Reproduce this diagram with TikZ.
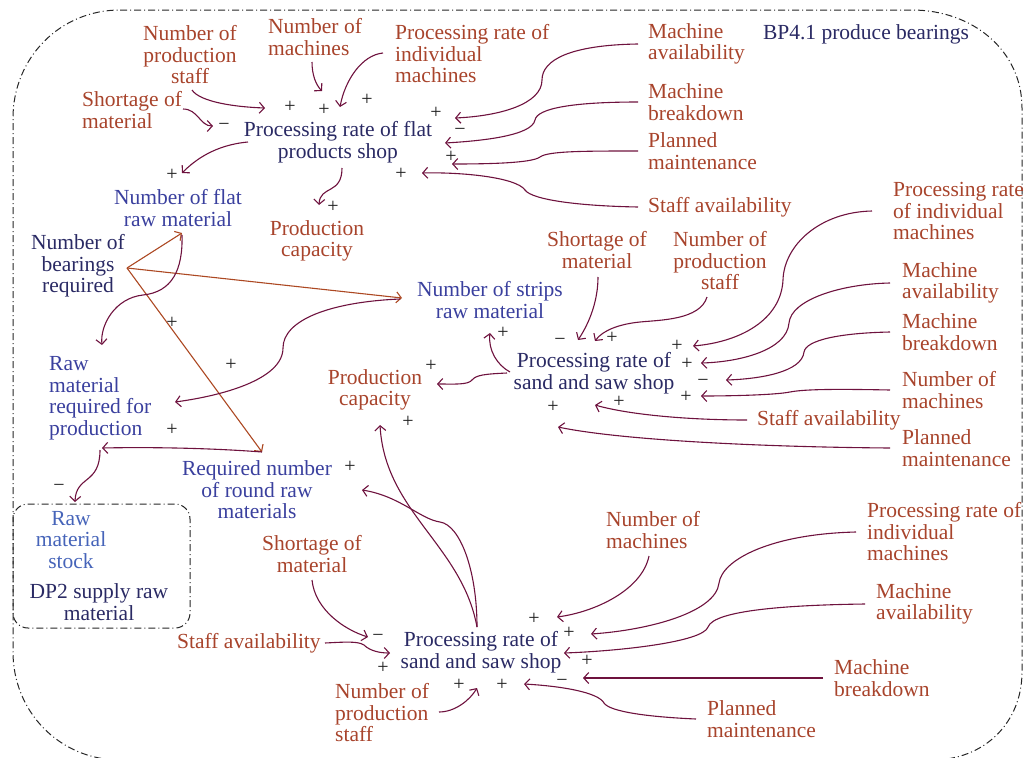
\documentclass[tikz,border=0pt]{standalone}
\usepackage{fontspec}
\setmainfont{Liberation Serif}
\usetikzlibrary{arrows.meta}
\definecolor{brownT}{RGB}{168,68,44}
\definecolor{navyT}{RGB}{42,42,100}
\definecolor{blueT}{RGB}{58,64,158}
\definecolor{lblueT}{RGB}{70,100,185}
\definecolor{arrC}{RGB}{110,18,62}
\definecolor{orC}{RGB}{172,72,34}
\definecolor{signC}{RGB}{30,30,30}
\begin{document}
\begin{tikzpicture}[x=1pt,y=-1pt,
  lbl/.style={inner sep=0pt, font=\fontsize{21.5}{21.5}\selectfont},
  br/.style={lbl,text=brownT},
  nv/.style={lbl,text=navyT},
  bl/.style={lbl,text=blueT},
  L/.style={align=left,anchor=west},
  C/.style={align=center},
  sg/.style={inner sep=0pt,text=signC,font=\fontsize{20}{20}\selectfont},
  arr/.style={draw=arrC,line width=1.1pt,-{Straight Barb[length=5pt,width=11pt,line width=1.1pt]}},
  oarr/.style={draw=orC,line width=1.1pt,-{Straight Barb[length=5pt,width=11pt,line width=1.1pt]}},
  frame/.style={draw=black!85,line width=1pt,dash pattern=on 7pt off 3pt on 1pt off 3pt}]
\useasboundingbox (0,0) rectangle (1026,758);
% frames
\draw[frame] (120,10) -- (912,10) .. controls (972,10) and (1022,50) .. (1022,108) -- (1022,672)
  .. controls (1022,722) and (985,760) .. (932,760) -- (120,760)
  .. controls (60,760) and (13,712) .. (13,652) -- (13,118) .. controls (13,58) and (60,10) .. (120,10) -- cycle;
\draw[frame,rounded corners=15pt] (13,504) rectangle (190,628);
% ---------- top section
\node[br,C] (nps1) at (190,55) {Number of\\production\\staff};
\node[br,L] (nm1) at (268,37) {Number of\\machines};
\node[br,L] (pri1) at (395,54) {Processing rate of\\individual\\machines};
\node[br,L] (sm1) at (82,110) {Shortage of\\material};
\node[br,L] (ma1) at (648,44) {Machine\\availability};
\node[br,L] (mb1) at (648,102) {Machine\\breakdown};
\node[br,L] (pm1) at (648,151) {Planned\\maintenance};
\node[br,L] (sa1) at (648,207) {Staff availability};
\node[nv] (bp) at (866,34) {BP4.1 produce bearings};
\node[nv,C] (flat) at (338,142) {Processing rate of flat\\products shop};
\node[bl,C] (nfr) at (178,208) {Number of flat\\raw material};
\node[br,C] (pc1) at (317,241) {Production\\capacity};
\node[nv,C] (nbr) at (78,266) {Number of\\bearings\\required};
\node[bl,L] (rmr) at (49,398) {Raw\\material\\required for\\production};
\node[bl,C] (rnr) at (257,490) {Required number\\of round raw\\materials};
\node[bl,C] (nsr) at (490,300) {Number of strips\\raw material};
\node[bl,C,text=lblueT] (rms) at (71,540) {Raw\\material\\stock};
\node[nv,C] (dp2) at (99,602) {DP2 supply raw\\material};
% ---------- middle section
\node[br,C] (sm2) at (597,250) {Shortage of\\material};
\node[br,C] (nps2) at (720,261) {Number of\\production\\staff};
\node[br,L] (pri2) at (893,211) {Processing rate\\of individual\\machines};
\node[br,L] (ma2) at (902,283) {Machine\\availability};
\node[br,L] (mb2) at (902,332) {Machine\\breakdown};
\node[br,L] (nm2) at (902,390) {Number of\\machines};
\node[br,L] (sa2) at (757,420) {Staff availability};
\node[br,L] (pm2) at (902,448) {Planned\\maintenance};
\node[nv,C] (sand1) at (594,373) {Processing rate of\\sand and saw shop};
\node[br,C] (pc2) at (375,390) {Production\\capacity};
% ---------- bottom section
\node[br,L] (nm3) at (606,530) {Number of\\machines};
\node[br,L] (pri3) at (867,532) {Processing rate of\\individual\\machines};
\node[br,L] (ma3) at (876,604) {Machine\\availability};
\node[br,L] (mb3) at (834,678) {Machine\\breakdown};
\node[br,L] (pm3) at (707,719) {Planned\\maintenance};
\node[br,C] (sm3) at (312,554) {Shortage of\\material};
\node[br,L] (sa3) at (177,643) {Staff availability};
\node[br,L] (nps3) at (335,713) {Number of\\production\\staff};
\node[nv,C] (sand2) at (481,652) {Processing rate of\\sand and saw shop};
% ---------- signs
\node[sg] (s1) at (290,107) {+};
\node[sg] (s2) at (324,110) {+};
\node[sg] (s3) at (367,100) {+};
\node[sg] (s4) at (436,113) {+};
\node[sg] (s5) at (224,127) {−};
\node[sg] (s6) at (460,132) {−};
\node[sg] (s7) at (451,157) {+};
\node[sg] (s8) at (401,174) {+};
\node[sg] (s9) at (172,175) {+};
\node[sg] (s10) at (333,207) {+};
\node[sg] (s11) at (172,323) {+};
\node[sg] (s12) at (231,365) {+};
\node[sg] (s13) at (172,430) {+};
\node[sg] (s14) at (59,488) {−};
\node[sg] (s15) at (350,467) {+};
\node[sg] (s16) at (503,333) {+};
\node[sg] (s17) at (560,342) {−};
\node[sg] (s18) at (612,338) {+};
\node[sg] (s19) at (677,346) {+};
\node[sg] (s20) at (687,364) {+};
\node[sg] (s21) at (703,383) {−};
\node[sg] (s22) at (686,397) {+};
\node[sg] (s23) at (553,407) {+};
\node[sg] (s24) at (619,402) {+};
\node[sg] (s25) at (431,366) {+};
\node[sg] (s26) at (408,422) {+};
\node[sg] (s27) at (378,638) {−};
\node[sg] (s28) at (383,668) {+};
\node[sg] (s29) at (459,685) {+};
\node[sg] (s30) at (502,685) {+};
\node[sg] (s31) at (534,619) {+};
\node[sg] (s32) at (569,633) {+};
\node[sg] (s33) at (587,661) {+};
\node[sg] (s34) at (562,683) {−};
% ---------- connectors top
\draw[arr] (192,90) .. controls (200,102) and (235,107) .. (265,108);
\draw[arr] (312,62) .. controls (312,75) and (316,85) .. (322,91);
\draw[arr] (383,53) .. controls (362,55) and (345,80) .. (340,107);
\draw[arr] (183,109) .. controls (198,109) and (200,126) .. (213,126);
\draw[arr] ([xshift=-10pt]ma1.west) .. controls (570,45) and (542,60) .. (542,80) .. controls (542,104) and (500,116) .. (455,118);
\draw[arr] ([xshift=-10pt]mb1.west) .. controls (575,102) and (537,108) .. (535,120) .. controls (532,136) and (480,141) .. (445,143);
\draw[arr] ([xshift=-10pt]pm1.west) .. controls (585,151) and (548,151) .. (540,157) .. controls (532,163) and (490,164) .. (452,164);
\draw[arr] ([xshift=-10pt]sa1.west) .. controls (580,206) and (532,200) .. (525,190) .. controls (516,177) and (460,172) .. (422,173);
\draw[arr] (248,142) .. controls (215,145) and (195,160) .. (182,173);
\draw[arr] (342,168) .. controls (342,195) and (320,185) .. (319,205);
% orange
\coordinate (apex) at (127,268);
\draw[oarr] (apex) -- (182,233);
\draw[oarr] (apex) -- (402,298);
\draw[oarr] (apex) -- (262,452);
% left purple
\draw[arr] (182,235) .. controls (183,270) and (172,292) .. (143,295) .. controls (115,298) and (100,325) .. (102,345);
\draw[arr] (400,299) .. controls (330,302) and (283,320) .. (283,348) .. controls (283,380) and (220,396) .. (175,402);
\draw[arr] (262,452) .. controls (210,448) and (150,447) .. (102,448);
\draw[arr] (100,450) .. controls (100,485) and (76,475) .. (75,502);
% middle
\draw[arr] (598,277) .. controls (598,300) and (590,322) .. (578,340);
\draw[arr] (707,297) .. controls (700,320) and (660,320) .. (640,322) .. controls (620,324) and (603,330) .. (595,341);
\draw[arr] ([xshift=-21pt]pri2.west) .. controls (820,212) and (784,245) .. (783,280) .. controls (781,320) and (740,342) .. (693,346);
\draw[arr] ([xshift=-12pt]ma2.west) .. controls (840,284) and (791,300) .. (789,323) .. controls (787,350) and (740,362) .. (701,363);
\draw[arr] ([xshift=-12pt]mb2.west) .. controls (840,333) and (806,340) .. (804,352) .. controls (802,372) and (760,379) .. (726,380);
\draw[arr] ([xshift=-12pt]nm2.west) .. controls (840,389) and (805,389) .. (790,392) .. controls (775,395) and (730,396) .. (701,396);
\draw[arr] ([xshift=-10pt]sa2.west) .. controls (690,420) and (630,415) .. (595,405);
\draw[arr] ([xshift=-12pt]pm2.west) .. controls (760,447) and (620,440) .. (558,427);
\draw[arr] (510,372) .. controls (497,365) and (488,350) .. (490,333);
\draw[arr] (507,373) .. controls (485,374) and (476,375) .. (472,380) .. controls (468,385) and (455,384) .. (437,384);
% bottom
\draw[arr] (649,556) .. controls (642,590) and (595,612) .. (557,617);
\draw[arr] ([xshift=-11pt]pri3.west) .. controls (770,534) and (722,560) .. (719,583) .. controls (716,612) and (650,630) .. (591,634);
\draw[arr] ([xshift=-11pt]ma3.west) .. controls (790,605) and (714,610) .. (708,627) .. controls (703,642) and (620,651) .. (564,653);
\draw[arr] ([xshift=-11pt]mb3.west) -- (583,678);
\draw[arr] ([xshift=-11pt]pm3.west) .. controls (650,717) and (610,712) .. (604,703) .. controls (598,692) and (560,686) .. (524,684);
\draw[arr] (312,580) .. controls (315,610) and (345,630) .. (368,637);
\draw[arr] (325,643) .. controls (345,642) and (358,641) .. (364,645) .. controls (370,651) and (380,653) .. (390,653);
\draw[arr] (439,712) .. controls (455,712) and (470,700) .. (477,688);
\coordinate (sb) at (477,627);
\draw[arr] (sb) .. controls (477,570) and (460,525) .. (440,522) .. controls (420,519) and (400,496) .. (362,490);
\draw[arr] (sb) .. controls (462,545) and (385,512) .. (380,425);
\end{tikzpicture}
\end{document}
